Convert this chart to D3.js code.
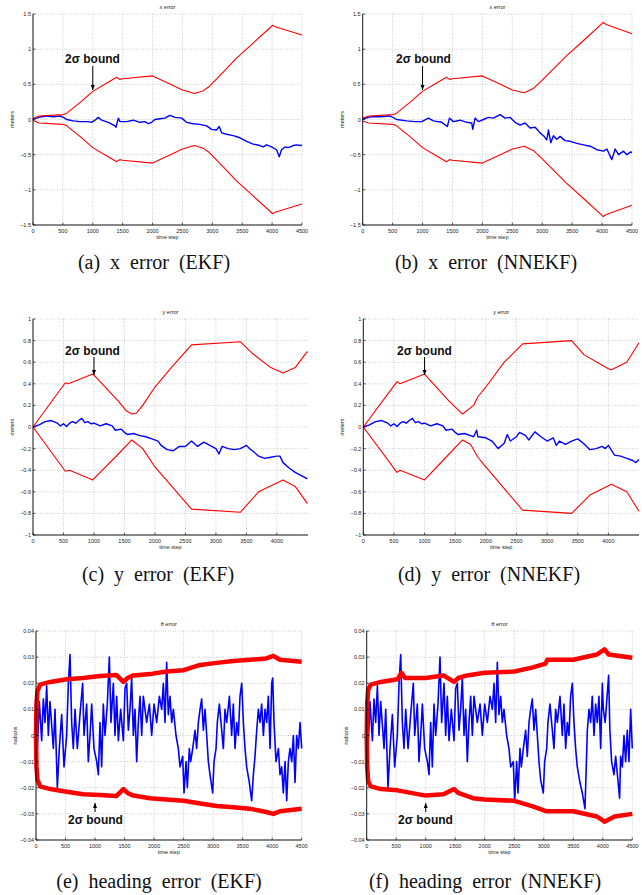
<!DOCTYPE html>
<html>
<head>
<meta charset="utf-8">
<script src="https://cdn.jsdelivr.net/npm/d3@7/dist/d3.min.js"></script>
<style>
  body { margin: 0; background: #fff; }
  svg { display: block; }
  .tick-label { font-family: "Liberation Sans", Arial, sans-serif; font-size: 5.5px; fill: #222; }
  .axis-label { font-family: "Liberation Sans", Arial, sans-serif; font-size: 5.5px; fill: #222; }
  .caption { font-family: "Liberation Serif", "Times New Roman", serif; font-size: 20px; word-spacing: 5px; fill: #111; }
  .note { font-family: "Liberation Sans", Arial, sans-serif; font-size: 12px; font-weight: bold; fill: #111; }
</style>
</head>
<body>
<script>
// ---- data: [time step, error] ----

// x error, EKF
var xErrEkf = [[0,0],[6,0.01],[61,0.02],[145,0.04],[229,0.05],[340,0.04],[452,0.05],[507,0.03],[563,0],[674,-0.02],[786,-0.03],[925,-0.03],[981,-0.04],[1037,-0.01],[1092,0.03],[1148,-0.01],[1260,-0.04],[1371,-0.09],[1388,-0.11],[1427,0.02],[1455,-0.03],[1566,-0.03],[1678,-0.01],[1789,-0.04],[1873,-0.03],[1928,-0.06],[1984,-0.04],[2040,0],[2123,0.01],[2207,0.02],[2290,0.06],[2374,0.03],[2486,0.02],[2569,-0.04],[2681,-0.06],[2792,-0.07],[2904,-0.09],[2988,-0.14],[3071,-0.15],[3116,-0.1],[3155,-0.19],[3238,-0.21],[3350,-0.23],[3461,-0.26],[3573,-0.31],[3684,-0.35],[3796,-0.37],[3852,-0.39],[3907,-0.36],[3991,-0.39],[4074,-0.43],[4119,-0.53],[4158,-0.43],[4214,-0.39],[4270,-0.4],[4353,-0.37],[4409,-0.36],[4476,-0.37],[4500,-0.36]];
var xUpEkf = [[0,0.01],[100,0.05],[500,0.07],[550,0.08],[800,0.25],[1000,0.4],[1200,0.5],[1400,0.6],[1450,0.57],[1500,0.58],[2000,0.62],[2300,0.5],[2500,0.42],[2700,0.37],[2850,0.41],[2950,0.47],[3190,0.68],[3400,0.87],[3700,1.1],[4010,1.34],[4050,1.32],[4500,1.2]];
var xLoEkf = [[0,-0.01],[100,-0.05],[500,-0.07],[550,-0.08],[800,-0.25],[1000,-0.4],[1200,-0.5],[1400,-0.6],[1450,-0.57],[1500,-0.58],[2000,-0.62],[2300,-0.5],[2500,-0.42],[2700,-0.37],[2850,-0.41],[2950,-0.47],[3190,-0.68],[3400,-0.87],[3700,-1.1],[4010,-1.34],[4050,-1.32],[4500,-1.2]];

// x error, NNEKF
var xErrNn = [[0,0],[11,0.01],[150,0.04],[289,0.04],[456,0.05],[568,0],[735,-0.02],[874,-0.03],[986,-0.03],[1098,0.02],[1181,-0.02],[1320,-0.04],[1415,-0.1],[1449,0.02],[1515,-0.03],[1627,-0.01],[1738,-0.04],[1822,-0.05],[1839,-0.14],[1878,0.02],[1933,-0.03],[2017,0],[2100,0.03],[2184,0.02],[2296,0.07],[2379,0.02],[2463,0.03],[2546,-0.04],[2630,-0.08],[2713,-0.05],[2797,-0.12],[2881,-0.11],[2964,-0.19],[3020,-0.23],[3076,-0.29],[3104,-0.15],[3143,-0.33],[3187,-0.23],[3243,-0.28],[3299,-0.24],[3382,-0.3],[3466,-0.31],[3578,-0.34],[3689,-0.36],[3801,-0.38],[3912,-0.43],[4024,-0.45],[4080,-0.42],[4163,-0.57],[4219,-0.42],[4275,-0.5],[4358,-0.45],[4414,-0.5],[4481,-0.46],[4500,-0.47]];
var xUpNn = [[0,0.02],[100,0.05],[500,0.07],[550,0.08],[800,0.25],[1000,0.4],[1200,0.5],[1400,0.6],[1450,0.57],[1500,0.58],[2000,0.62],[2300,0.5],[2500,0.42],[2700,0.38],[2850,0.44],[3000,0.56],[3400,0.9],[3700,1.13],[4020,1.38],[4070,1.35],[4500,1.22]];
var xLoNn = [[0,-0.02],[100,-0.05],[500,-0.07],[550,-0.08],[800,-0.25],[1000,-0.4],[1200,-0.5],[1400,-0.6],[1450,-0.57],[1500,-0.58],[2000,-0.62],[2300,-0.5],[2500,-0.42],[2700,-0.38],[2850,-0.44],[3000,-0.56],[3400,-0.9],[3700,-1.13],[4020,-1.38],[4070,-1.35],[4500,-1.22]];

// y error, EKF
var yErrEkf = [[0,0],[100,0.02],[200,0.05],[300,0.06],[400,0.035],[450,0.01],[500,0.03],[550,0.005],[600,0.035],[650,0.05],[700,0.035],[750,0.06],[800,0.08],[850,0.04],[900,0.05],[950,0.03],[1000,0.035],[1100,0.01],[1200,0.03],[1300,0.01],[1350,-0.03],[1450,-0.02],[1500,-0.05],[1550,-0.07],[1650,-0.06],[1750,-0.08],[1850,-0.09],[1950,-0.11],[2050,-0.13],[2100,-0.17],[2200,-0.21],[2300,-0.22],[2400,-0.18],[2500,-0.18],[2600,-0.13],[2700,-0.18],[2800,-0.14],[2900,-0.17],[3000,-0.2],[3050,-0.25],[3100,-0.18],[3200,-0.2],[3300,-0.21],[3400,-0.2],[3500,-0.17],[3550,-0.2],[3600,-0.22],[3700,-0.27],[3800,-0.29],[3900,-0.28],[4000,-0.27],[4050,-0.27],[4100,-0.33],[4200,-0.38],[4300,-0.42],[4400,-0.45],[4500,-0.48]];
var yUpEkf = [[0,0],[530,0.41],[580,0.4],[980,0.49],[1050,0.45],[1400,0.24],[1530,0.15],[1620,0.12],[1700,0.13],[1800,0.2],[2000,0.37],[2300,0.57],[2600,0.76],[3400,0.79],[3600,0.68],[3900,0.55],[4100,0.5],[4300,0.55],[4500,0.7]];
var yLoEkf = [[0,0],[530,-0.41],[600,-0.4],[980,-0.49],[1400,-0.25],[1620,-0.12],[1800,-0.2],[2000,-0.37],[2600,-0.76],[3400,-0.79],[3700,-0.6],[4100,-0.49],[4300,-0.55],[4500,-0.71]];

// y error, NNEKF
var yErrNn = [[0,0],[100,0.02],[200,0.05],[300,0.06],[400,0.035],[450,0.01],[500,0.03],[550,0.005],[600,0.035],[650,0.05],[700,0.035],[750,0.06],[800,0.08],[850,0.04],[900,0.05],[950,0.03],[1000,0.035],[1100,0.01],[1200,0.03],[1300,0.01],[1350,-0.03],[1450,-0.02],[1500,-0.05],[1550,-0.07],[1650,-0.06],[1750,-0.08],[1800,-0.09],[1850,-0.03],[1870,-0.09],[2000,-0.1],[2100,-0.13],[2200,-0.2],[2300,-0.15],[2350,-0.07],[2400,-0.13],[2500,-0.09],[2550,-0.05],[2650,-0.08],[2700,-0.12],[2800,-0.045],[2900,-0.09],[3000,-0.13],[3100,-0.1],[3150,-0.17],[3200,-0.13],[3300,-0.16],[3400,-0.13],[3500,-0.11],[3600,-0.155],[3700,-0.21],[3800,-0.2],[3900,-0.18],[3950,-0.2],[4000,-0.17],[4100,-0.26],[4200,-0.27],[4300,-0.29],[4400,-0.31],[4450,-0.33],[4500,-0.3]];
var yUpNn = [[0,0],[550,0.42],[600,0.4],[1000,0.49],[1400,0.24],[1620,0.12],[1800,0.2],[1870,0.28],[2000,0.37],[2300,0.6],[2600,0.77],[3400,0.8],[3600,0.67],[4000,0.54],[4050,0.53],[4300,0.6],[4500,0.78]];
var yLoNn = [[0,0],[550,-0.42],[600,-0.4],[1000,-0.49],[1400,-0.25],[1620,-0.12],[1750,-0.16],[1870,-0.28],[2000,-0.37],[2600,-0.77],[3400,-0.8],[3700,-0.63],[4050,-0.53],[4300,-0.6],[4500,-0.78]];

// heading error, EKF
var hErrEkf = [[0,0],[23,-0.005],[56,0.013],[96,-0.002],[124,0.014],[152,0.005],[181,0.019],[209,0],[237,0.013],[294,-0.005],[322,0.01],[361,-0.02],[395,-0.005],[435,0.008],[474,-0.012],[519,0],[548,0.02],[576,0.031],[604,0.005],[632,-0.005],[661,0.01],[700,-0.005],[745,0.008],[790,0.02],[813,0],[858,0.012],[886,-0.01],[915,0],[943,0.012],[982,-0.005],[1028,-0.01],[1056,-0.015],[1084,0.005],[1112,-0.012],[1140,0.012],[1169,0],[1208,0.012],[1242,0.03],[1270,0.005],[1310,0.02],[1338,0],[1366,0.015],[1395,-0.002],[1434,0.01],[1479,-0.002],[1507,0.018],[1536,0.02],[1564,0.002],[1592,0.01],[1620,0.022],[1649,0],[1677,0.01],[1705,-0.01],[1733,0.005],[1762,0.015],[1790,0],[1818,0.015],[1874,0.005],[1920,0.012],[1959,0],[1999,0.012],[2044,0.005],[2089,0.015],[2129,0.01],[2157,0.02],[2185,0.005],[2213,0.028],[2241,0.008],[2270,0.015],[2298,0.005],[2326,0.01],[2371,0],[2411,-0.005],[2439,-0.012],[2484,-0.008],[2507,-0.022],[2541,-0.01],[2563,-0.02],[2597,-0.005],[2620,-0.01],[2654,-0.005],[2693,0.002],[2721,-0.005],[2750,0.005],[2778,0.01],[2806,0.014],[2834,0.002],[2863,0.01],[2891,0],[2919,-0.01],[2947,-0.015],[2992,-0.022],[3015,-0.01],[3049,-0.005],[3071,0.005],[3105,0.012],[3145,0.002],[3173,-0.005],[3201,0.01],[3230,0.005],[3275,0.015],[3314,0],[3342,0.012],[3371,-0.005],[3399,0.005],[3427,0],[3455,0.015],[3484,0.02],[3512,0.005],[3540,-0.005],[3568,-0.012],[3613,-0.018],[3653,-0.025],[3681,-0.015],[3709,-0.008],[3738,0.002],[3766,0.01],[3794,0.005],[3822,0.012],[3851,0],[3879,0.01],[3907,0.005],[3935,0.015],[3964,-0.005],[3992,0.02],[4009,0.022],[4031,0.005],[4065,-0.01],[4105,-0.005],[4133,-0.015],[4161,-0.012],[4189,-0.022],[4218,-0.01],[4246,-0.025],[4274,-0.01],[4302,-0.005],[4331,-0.01],[4359,0],[4387,-0.018],[4415,0],[4443,-0.005],[4472,0.005],[4500,-0.005]];
var hUpEkf = [[0,0],[8,0.012],[25,0.017],[70,0.0195],[240,0.0205],[520,0.0215],[800,0.022],[1080,0.0228],[1360,0.0232],[1480,0.0205],[1550,0.022],[1650,0.023],[1930,0.0235],[2210,0.0245],[2500,0.025],[2780,0.027],[3060,0.0278],[3340,0.0285],[3620,0.029],[3900,0.0295],[4020,0.0305],[4130,0.029],[4500,0.0282]];
var hLoEkf = [[0,0],[8,-0.012],[25,-0.017],[70,-0.0195],[240,-0.0205],[520,-0.0215],[800,-0.0225],[1080,-0.0228],[1360,-0.0232],[1480,-0.0205],[1550,-0.022],[1650,-0.023],[1930,-0.024],[2210,-0.0245],[2500,-0.025],[2780,-0.026],[3060,-0.027],[3340,-0.0275],[3620,-0.028],[3900,-0.0293],[4020,-0.03],[4130,-0.029],[4500,-0.028]];

// heading error, NNEKF
var hErrNn = [[0,0],[23,-0.005],[56,0.013],[96,-0.002],[124,0.014],[152,0.005],[181,0.019],[209,0],[237,0.013],[294,-0.005],[322,0.01],[361,-0.02],[395,-0.005],[435,0.008],[474,-0.012],[519,0],[548,0.02],[576,0.031],[604,0.005],[632,-0.005],[661,0.01],[700,-0.005],[745,0.008],[790,0.02],[813,0],[858,0.012],[886,-0.01],[915,0],[943,0.012],[982,-0.005],[1028,-0.01],[1056,-0.015],[1084,0.005],[1112,-0.012],[1140,0.012],[1169,0],[1208,0.012],[1242,0.03],[1270,0.005],[1310,0.02],[1338,0],[1366,0.015],[1395,-0.002],[1434,0.01],[1479,-0.002],[1507,0.018],[1536,0.02],[1564,0.002],[1592,0.01],[1620,0.022],[1649,0],[1677,0.01],[1705,-0.01],[1733,0.005],[1762,0.015],[1790,0],[1818,0.015],[1874,0.005],[1920,0.012],[1959,0],[1999,0.012],[2044,0.005],[2089,0.015],[2129,0.01],[2157,0.02],[2185,0.005],[2213,0.028],[2241,0.008],[2270,0.015],[2298,0.005],[2326,0.01],[2371,0],[2411,-0.005],[2439,-0.012],[2484,-0.01],[2507,-0.025],[2541,-0.01],[2563,-0.022],[2597,-0.005],[2620,-0.012],[2654,-0.005],[2693,0.002],[2721,-0.008],[2750,0.005],[2778,0.01],[2806,0.014],[2834,0.002],[2863,0.01],[2891,0],[2919,-0.01],[2947,-0.017],[2992,-0.022],[3015,-0.01],[3049,-0.005],[3071,0.005],[3105,0.012],[3145,0.002],[3173,-0.005],[3201,0.01],[3230,0.005],[3275,0.015],[3314,0],[3342,0.012],[3371,-0.005],[3399,0.005],[3427,0],[3455,0.015],[3484,0.02],[3512,0.005],[3540,-0.005],[3568,-0.012],[3613,-0.018],[3653,-0.022],[3698,-0.028],[3720,-0.012],[3738,0.002],[3766,0.01],[3794,0.005],[3822,0.015],[3851,0],[3879,0.012],[3907,0.005],[3935,0.015],[3964,-0.005],[3992,0.02],[4009,0.01],[4040,0.005],[4099,0.023],[4120,0.002],[4150,-0.01],[4189,-0.015],[4218,-0.008],[4260,-0.018],[4285,-0.024],[4302,-0.008],[4331,-0.012],[4359,0],[4387,-0.01],[4415,0.002],[4443,-0.01],[4472,0.01],[4500,-0.005]];
var hUpNn = [[0,0],[8,0.012],[25,0.0175],[70,0.0195],[240,0.0205],[520,0.0215],[590,0.024],[650,0.022],[1000,0.022],[1300,0.023],[1480,0.0205],[1550,0.022],[1700,0.023],[2000,0.024],[2500,0.0245],[2800,0.026],[3030,0.0275],[3060,0.029],[3500,0.029],[3900,0.031],[4030,0.033],[4100,0.031],[4500,0.0298]];
var hLoNn = [[0,0],[8,-0.012],[25,-0.0175],[70,-0.0195],[240,-0.0205],[520,-0.021],[1000,-0.023],[1300,-0.0225],[1480,-0.0205],[1550,-0.022],[1800,-0.024],[2000,-0.0245],[2500,-0.025],[2800,-0.027],[3050,-0.029],[3500,-0.029],[3900,-0.031],[4030,-0.033],[4200,-0.031],[4500,-0.03]];

// ticks
var stepTicks = [0,500,1000,1500,2000,2500,3000,3500,4000,4500];
var stepTicksShort = [0,500,1000,1500,2000,2500,3000,3500,4000];
var xErrTicks = [-1.5,-1,-0.5,0,0.5,1,1.5];
var yErrTicks = [-1,-0.8,-0.6,-0.4,-0.2,0,0.2,0.4,0.6,0.8,1];
var hErrTicks = [-0.04,-0.03,-0.02,-0.01,0,0.01,0.02,0.03,0.04];

var svg = d3.select("body").append("svg")
  .attr("width", 642)
  .attr("height", 895);

var fmt = d3.format("~g");

function drawPanel(p) {
  var x = d3.scaleLinear().domain([0, p.xMax]).range([p.left, p.right]);
  var y = d3.scaleLinear().domain(p.yDomain).range([p.bottom, p.top]);
  var g = svg.append("g");

  // dotted grid
  g.selectAll(".vg").data(p.xTicks).enter().append("line")
    .attr("x1", d => x(d)).attr("x2", d => x(d))
    .attr("y1", p.top).attr("y2", p.bottom)
    .attr("stroke", "#999").attr("stroke-width", 0.6)
    .attr("stroke-dasharray", "0.8,1.6");
  g.selectAll(".hg").data(p.yTicks).enter().append("line")
    .attr("x1", p.left).attr("x2", p.right)
    .attr("y1", d => y(d)).attr("y2", d => y(d))
    .attr("stroke", "#999").attr("stroke-width", 0.6)
    .attr("stroke-dasharray", "0.8,1.6");

  var line = d3.line().x(d => x(d[0])).y(d => y(d[1]));

  g.append("path").datum(p.err)
    .attr("d", line).attr("fill", "none")
    .attr("stroke", "#0000ff").attr("stroke-width", p.errWidth)
    .attr("stroke-linejoin", "round");
  [p.up, p.lo].forEach(function(s) {
    g.append("path").datum(s)
      .attr("d", line).attr("fill", "none")
      .attr("stroke", "#ff0000").attr("stroke-width", p.boundWidth)
      .attr("stroke-linejoin", "round");
  });

  // axes: left and bottom only, ticks inward
  g.append("line").attr("x1", p.left).attr("x2", p.left)
    .attr("y1", p.top).attr("y2", p.bottom).attr("stroke", "#000").attr("stroke-width", 0.9);
  g.append("line").attr("x1", p.left).attr("x2", p.right)
    .attr("y1", p.bottom).attr("y2", p.bottom).attr("stroke", "#000").attr("stroke-width", 0.9);
  g.selectAll(".xt").data(p.xTicks).enter().append("line")
    .attr("x1", d => x(d)).attr("x2", d => x(d))
    .attr("y1", p.bottom).attr("y2", p.bottom - 2.5)
    .attr("stroke", "#000").attr("stroke-width", 0.6);
  g.selectAll(".yt").data(p.yTicks).enter().append("line")
    .attr("x1", p.left).attr("x2", p.left + 2.5)
    .attr("y1", d => y(d)).attr("y2", d => y(d))
    .attr("stroke", "#000").attr("stroke-width", 0.6);

  g.selectAll(".xl").data(p.xTicks).enter().append("text")
    .attr("class", "tick-label")
    .attr("x", d => x(d)).attr("y", p.bottom + 7.5)
    .attr("text-anchor", "middle")
    .text(d => fmt(d));
  g.selectAll(".yl").data(p.yTicks).enter().append("text")
    .attr("class", "tick-label")
    .attr("x", p.left - 2).attr("y", d => y(d) + 2)
    .attr("text-anchor", "end")
    .text(d => fmt(d));

  var cx = (p.left + p.right) / 2;
  g.append("text").attr("class", "axis-label")
    .attr("x", cx).attr("y", p.top - 5)
    .attr("text-anchor", "middle").text(p.title);
  g.append("text").attr("class", "axis-label")
    .attr("x", cx).attr("y", p.bottom + 14)
    .attr("text-anchor", "middle").text("time step");
  g.append("text").attr("class", "axis-label")
    .attr("transform", "translate(" + (p.left - 19) + "," + ((p.top + p.bottom) / 2) + ") rotate(-90)")
    .attr("text-anchor", "middle").text(p.yLabel);

  // 2-sigma annotation
  var ax = x(1000);
  var a = p.note;
  g.append("text").attr("class", "note")
    .attr("x", a.tx).attr("y", a.ty)
    .text("2\u03c3 bound");
  g.append("line").attr("x1", ax).attr("x2", ax)
    .attr("y1", a.y1).attr("y2", a.y2)
    .attr("stroke", "#000").attr("stroke-width", 1);
  var dir = a.y2 > a.y1 ? 1 : -1;
  g.append("path")
    .attr("d", "M" + (ax - 2) + "," + (a.y2 - dir * 5) + "L" + ax + "," + a.y2 + "L" + (ax + 2) + "," + (a.y2 - dir * 5) + "Z")
    .attr("fill", "#000");

  svg.append("text").attr("class", "caption")
    .attr("x", p.capX).attr("y", p.capY)
    .attr("text-anchor", "middle")
    .text(p.caption);
}

drawPanel({left: 33, right: 302, top: 14, bottom: 225, xMax: 4500, yDomain: [-1.5, 1.5],
  xTicks: stepTicks, yTicks: xErrTicks, err: xErrEkf, up: xUpEkf, lo: xLoEkf,
  errWidth: 1.4, boundWidth: 1.1, title: "x error", yLabel: "meters",
  note: {tx: 65, ty: 63, y1: 66, y2: 90}, caption: "(a) x error (EKF)", capX: 154, capY: 269});
drawPanel({left: 362.7, right: 632, top: 14, bottom: 225, xMax: 4500, yDomain: [-1.5, 1.5],
  xTicks: stepTicks, yTicks: xErrTicks, err: xErrNn, up: xUpNn, lo: xLoNn,
  errWidth: 1.4, boundWidth: 1.1, title: "x error", yLabel: "meters",
  note: {tx: 396, ty: 63, y1: 66, y2: 90}, caption: "(b) x error (NNEKF)", capX: 486, capY: 269});
drawPanel({left: 33, right: 308, top: 319, bottom: 535, xMax: 4510, yDomain: [-1, 1],
  xTicks: stepTicksShort, yTicks: yErrTicks, err: yErrEkf, up: yUpEkf, lo: yLoEkf,
  errWidth: 1.4, boundWidth: 1.1, title: "y error", yLabel: "meters",
  note: {tx: 65, ty: 355, y1: 357, y2: 375}, caption: "(c) y error (EKF)", capX: 158, capY: 581});
drawPanel({left: 363.3, right: 639, top: 319, bottom: 535, xMax: 4500, yDomain: [-1, 1],
  xTicks: stepTicksShort, yTicks: yErrTicks, err: yErrNn, up: yUpNn, lo: yLoNn,
  errWidth: 1.4, boundWidth: 1.1, title: "y error", yLabel: "meters",
  note: {tx: 397, ty: 355, y1: 357, y2: 375}, caption: "(d) y error (NNEKF)", capX: 489, capY: 581});
drawPanel({left: 36, right: 301.7, top: 631, bottom: 840, xMax: 4500, yDomain: [-0.04, 0.04],
  xTicks: stepTicks, yTicks: hErrTicks, err: hErrEkf, up: hUpEkf, lo: hLoEkf,
  errWidth: 1.6, boundWidth: 4.5, title: "\u03b8 error", yLabel: "radians",
  note: {tx: 68, ty: 824, y1: 812, y2: 803}, caption: "(e) heading error (EKF)", capX: 159, capY: 888});
drawPanel({left: 366.7, right: 632.3, top: 631, bottom: 840, xMax: 4500, yDomain: [-0.04, 0.04],
  xTicks: stepTicks, yTicks: hErrTicks, err: hErrNn, up: hUpNn, lo: hLoNn,
  errWidth: 1.6, boundWidth: 4.5, title: "\u03b8 error", yLabel: "radians",
  note: {tx: 398, ty: 824, y1: 812, y2: 803}, caption: "(f) heading error (NNEKF)", capX: 485, capY: 888});
</script>
</body>
</html>
